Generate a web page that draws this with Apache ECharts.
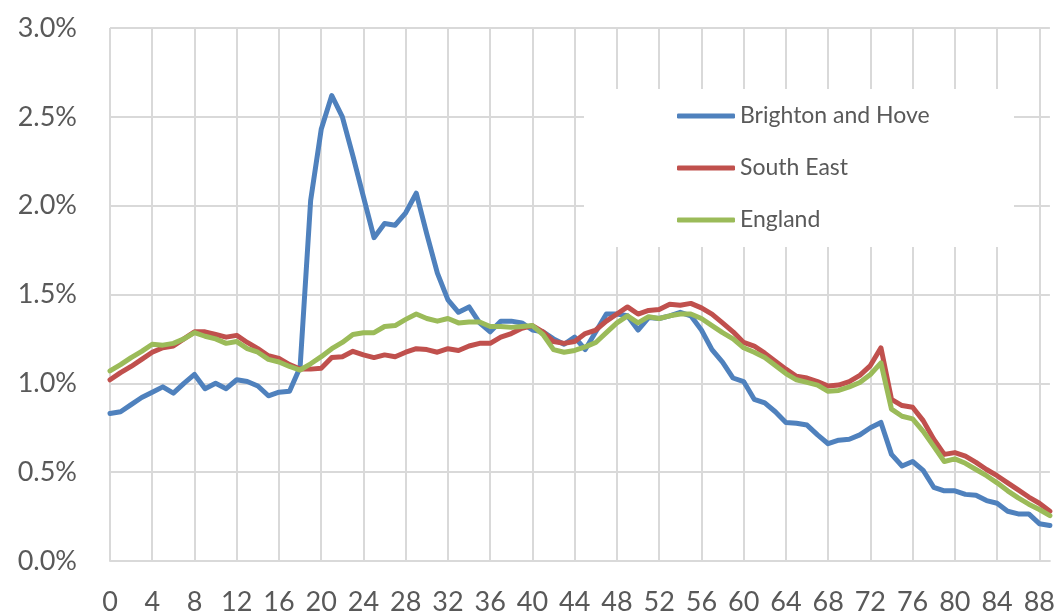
<!DOCTYPE html>
<html>
<head>
<meta charset="utf-8">
<script src="https://cdn.jsdelivr.net/npm/echarts@6/dist/echarts.min.js"></script>
<style>
  html, body { margin: 0; padding: 0; background: #fff; }
  #ageChart { width: 1058px; height: 616px; }
</style>
</head>
<body>
<div id="ageChart"></div>
<script>
// single year of age, 0 - 89
let ages = []
for (let a = 0; a <= 89; a++) ages.push(String(a))

// share of population at each age (%)
let brighton = [0.83, 0.84, 0.88, 0.92, 0.95, 0.98, 0.945, 1.00, 1.05, 0.97,
  1.00, 0.97, 1.02, 1.01, 0.985, 0.93, 0.95, 0.955, 1.09, 2.03,
  2.43, 2.62, 2.50, 2.28, 2.05, 1.82, 1.90, 1.89, 1.96, 2.07,
  1.84, 1.62, 1.47, 1.40, 1.43, 1.34, 1.29, 1.35, 1.35, 1.34,
  1.30, 1.29, 1.25, 1.22, 1.26, 1.19, 1.29, 1.39, 1.39, 1.38,
  1.30, 1.37, 1.365, 1.38, 1.40, 1.38, 1.30, 1.19, 1.12, 1.03,
  1.01, 0.91, 0.89, 0.84, 0.78, 0.775, 0.765, 0.71, 0.66, 0.68,
  0.685, 0.71, 0.75, 0.78, 0.60, 0.535, 0.56, 0.51, 0.415, 0.395,
  0.395, 0.375, 0.37, 0.34, 0.325, 0.28, 0.265, 0.265, 0.21, 0.20]

let southEast = [1.02, 1.06, 1.095, 1.135, 1.175, 1.20, 1.21, 1.25, 1.29, 1.29,
  1.275, 1.26, 1.27, 1.23, 1.195, 1.155, 1.14, 1.105, 1.08, 1.08,
  1.085, 1.145, 1.15, 1.18, 1.16, 1.145, 1.16, 1.15, 1.175, 1.195,
  1.19, 1.175, 1.195, 1.185, 1.21, 1.225, 1.225, 1.26, 1.28, 1.31,
  1.325, 1.29, 1.235, 1.225, 1.235, 1.28, 1.30, 1.35, 1.39, 1.43,
  1.39, 1.41, 1.415, 1.445, 1.44, 1.45, 1.425, 1.39, 1.34, 1.29,
  1.23, 1.21, 1.17, 1.125, 1.08, 1.04, 1.03, 1.01, 0.985, 0.99,
  1.01, 1.045, 1.10, 1.20, 0.91, 0.875, 0.865, 0.79, 0.685, 0.60,
  0.61, 0.59, 0.555, 0.515, 0.48, 0.44, 0.40, 0.36, 0.325, 0.28]

let england = [1.07, 1.105, 1.145, 1.18, 1.22, 1.215, 1.225, 1.25, 1.285, 1.265,
  1.25, 1.225, 1.235, 1.195, 1.175, 1.135, 1.12, 1.095, 1.075, 1.11,
  1.15, 1.195, 1.23, 1.275, 1.285, 1.285, 1.32, 1.325, 1.36, 1.39,
  1.365, 1.35, 1.365, 1.34, 1.345, 1.345, 1.32, 1.32, 1.315, 1.32,
  1.325, 1.275, 1.19, 1.175, 1.185, 1.205, 1.23, 1.285, 1.34, 1.38,
  1.34, 1.375, 1.365, 1.38, 1.39, 1.39, 1.365, 1.325, 1.285, 1.25,
  1.20, 1.175, 1.145, 1.10, 1.055, 1.02, 1.005, 0.99, 0.955, 0.96,
  0.98, 1.005, 1.05, 1.115, 0.855, 0.815, 0.80, 0.73, 0.645, 0.56,
  0.575, 0.55, 0.515, 0.48, 0.44, 0.395, 0.355, 0.32, 0.29, 0.255]

let seriesNames = ['Brighton and Hove', 'South East', 'England']
let seriesColors = ['#4F81BD', '#C0504D', '#9BBB59']

let myChart = echarts.init(document.getElementById('ageChart'))
let gridColor = '#D9D9D9'
let textColor = '#595959'
let font = 'Lato, "Open Sans", sans-serif'

let option = {
  backgroundColor: '#fff',
  animation: false,
  color: seriesColors,
  grid: {
    left: 110,
    right: 8,
    top: 28,
    bottom: 54
  },
  legend: {
    data: seriesNames,
    orient: 'vertical',
    left: 584,
    top: 89,
    padding: [15, 84, 15, 93],
    backgroundColor: '#fff',
    icon: 'roundRect',
    itemWidth: 58,
    itemHeight: 5,
    itemGap: 28,
    itemTextGap: 4,
    textStyle: {
      color: textColor,
      fontFamily: font,
      fontSize: 23,
      lineHeight: 24,
      width: 190
    }
  },
  xAxis: {
    type: 'category',
    data: ages,
    boundaryGap: false,
    axisLine: { lineStyle: { color: gridColor, width: 2 } },
    axisTick: { show: false },
    axisLabel: {
      interval: 3,
      margin: 28,
      color: textColor,
      fontFamily: font,
      fontSize: 27
    },
    splitLine: {
      show: true,
      interval: 3,
      lineStyle: { color: gridColor, width: 2 }
    }
  },
  yAxis: {
    type: 'value',
    min: 0,
    max: 3,
    interval: 0.5,
    axisLine: { show: false },
    axisTick: { show: false },
    axisLabel: {
      margin: 33,
      color: textColor,
      fontFamily: font,
      fontSize: 27,
      formatter: function (v) {
        return v.toFixed(1) + '%'
      }
    },
    splitLine: { lineStyle: { color: gridColor, width: 2 } }
  },
  series: [
    {
      name: seriesNames[0],
      type: 'line',
      data: brighton,
      symbol: 'none',
      lineStyle: { width: 5, cap: 'round', join: 'round' }
    },
    {
      name: seriesNames[1],
      type: 'line',
      data: southEast,
      symbol: 'none',
      lineStyle: { width: 5, cap: 'round', join: 'round' }
    },
    {
      name: seriesNames[2],
      type: 'line',
      data: england,
      symbol: 'none',
      lineStyle: { width: 5, cap: 'round', join: 'round' }
    }
  ]
}
myChart.setOption(option)
</script>
</body>
</html>
